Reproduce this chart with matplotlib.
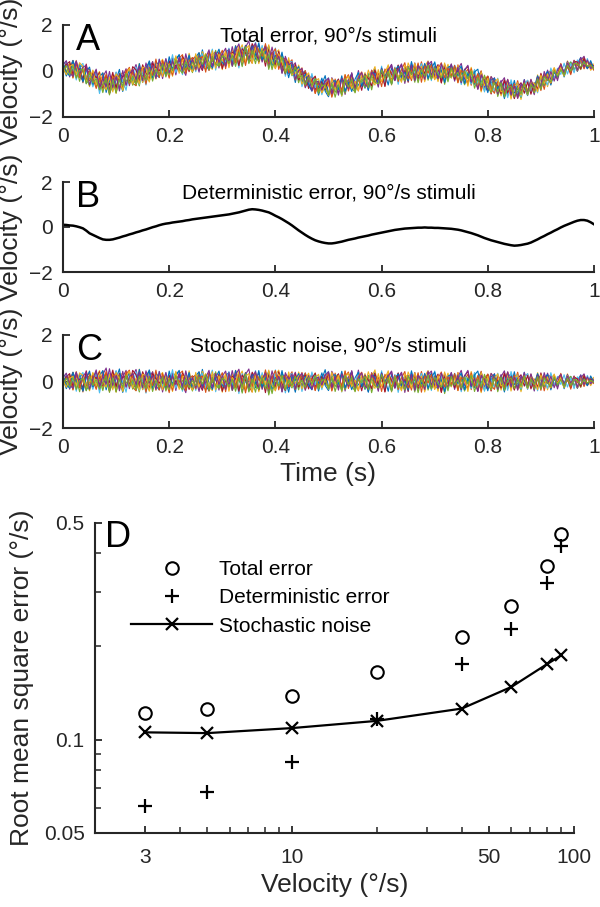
import numpy as np
import matplotlib
matplotlib.use("Agg")
import matplotlib.pyplot as plt
from matplotlib.ticker import FixedLocator, NullFormatter, FixedFormatter

plt.rcParams['font.family'] = ['Liberation Sans', 'DejaVu Sans']

# ---------------- data ----------------
time_s = np.linspace(0, 1, 161)

deterministic_trace = [
    0.10, 0.09, 0.07, 0.06, 0.03, -0.01, -0.06, -0.16, -0.28, -0.35,
    -0.42, -0.49, -0.55, -0.57, -0.57, -0.55, -0.51, -0.47, -0.42, -0.38,
    -0.33, -0.29, -0.24, -0.20, -0.15, -0.11, -0.06, -0.01, 0.03, 0.08,
    0.12, 0.15, 0.17, 0.20, 0.22, 0.24, 0.26, 0.29, 0.31, 0.34,
    0.36, 0.38, 0.40, 0.42, 0.44, 0.46, 0.48, 0.50, 0.52, 0.54,
    0.56, 0.59, 0.62, 0.65, 0.69, 0.73, 0.77, 0.79, 0.78, 0.76,
    0.73, 0.69, 0.65, 0.58, 0.50, 0.43, 0.35, 0.26, 0.17, 0.07,
    -0.04, -0.15, -0.25, -0.35, -0.44, -0.52, -0.59, -0.64, -0.68, -0.71,
    -0.73, -0.73, -0.71, -0.68, -0.65, -0.61, -0.57, -0.54, -0.51, -0.47,
    -0.44, -0.41, -0.38, -0.34, -0.31, -0.28, -0.25, -0.22, -0.19, -0.16,
    -0.13, -0.11, -0.09, -0.07, -0.06, -0.05, -0.04, -0.03, -0.03, -0.02,
    -0.03, -0.03, -0.04, -0.04, -0.05, -0.06, -0.07, -0.08, -0.10, -0.12,
    -0.15, -0.19, -0.23, -0.27, -0.32, -0.37, -0.43, -0.49, -0.54, -0.59,
    -0.63, -0.67, -0.71, -0.75, -0.78, -0.81, -0.83, -0.82, -0.80, -0.77,
    -0.74, -0.69, -0.62, -0.55, -0.47, -0.40, -0.32, -0.25, -0.17, -0.10,
    -0.02, 0.05, 0.11, 0.17, 0.23, 0.28, 0.31, 0.31, 0.28, 0.21,
    0.12]

noise_trial_1 = [.12,-.31,.05,.40,-.15,.22,.27,-.38,-.09,.06,
    .45,-.22,.13,.18,-.41,-.06,.33,.08,-.47,.21,
    .39,-.10,-.28,.24,-.35,.16,.50,-.04,-.19,-.36,
    .26,-.12,.13,-.29,.34,.44,-.19,.02,.07,-.37,
    .31,-.14,.52,-.16,-.40,.09,.21,.11,-.33,.26,
    .38,-.06,-.21,.25,-.44,.15,-.02,.34,-.27,.18,
    .03,.42,-.36,-.11,.19,-.12,.47,-.30,.05,.08,
    -.46,.29,.14,.36,-.15,-.32,.22,-.41,.10,.51,
    -.24,-.05,.17,.32,-.38,.04,.17,.43,-.28,-.14,
    .06,-.34,.26,.12,.39,-.19,.03,.11,-.42,.30,
    -.08,.34,-.23,.15,-.32,.24,.04,-.14,.20,-.25,
    .09,.37,-.18,-.30,.13,.28,-.07,-.21,.35,-.11,
    .18,-.39,.02,.25,-.26,.14,.41,-.17,-.33,.07,
    .29,-.09,.16,-.45,.23,.31,-.13,.06,-.28,.40,
    -.20,.12,-.36,.27,.08,-.15,.33,-.24,.19,-.04,
    .26,-.31,.10,.22,-.17,.05,.28,-.12,.16,-.07,
    .09]
noise_trial_2 = [-.22,.30,-.07,.39,-.33,.16,-.45,.23,.35,-.12,
    .27,-.36,.46,.06,-.28,.37,-.43,.18,-.09,.33,
    .49,-.24,-.40,.28,.10,-.32,.42,-.17,.21,-.37,
    .29,.04,-.48,.37,-.14,.32,.45,-.26,.08,-.35,
    -.16,.41,-.30,.19,-.42,.25,.36,-.10,-.38,.30,
    .14,-.25,.48,-.34,.02,.39,-.21,-.45,.27,.17,
    -.29,.50,-.12,.23,-.40,.33,-.04,-.27,.16,.42,
    -.35,.21,-.18,.37,-.06,.29,-.39,.12,-.23,.31,
    .11,-.27,.36,-.08,-.33,.22,.41,-.15,.05,-.40,
    .24,.13,-.30,.38,-.19,-.02,.27,-.44,.32,.09,
    -.13,.35,-.26,.18,.04,-.37,.29,-.11,.43,-.21,
    .07,-.32,.25,.16,-.46,.34,-.05,.20,-.28,.39,
    -.17,.08,.31,-.35,.22,-.10,.44,-.24,.13,-.38,
    .27,.02,-.19,.36,-.31,.15,-.07,.40,-.26,.19,
    .33,-.14,.06,-.29,.24,-.40,.17,.28,-.09,-.22,
    .35,-.18,.12,-.33,.21,.07,-.25,.30,-.12,.16,
    .04]
noise_trial_3 = [.24,-.10,.18,-.36,.43,-.25,.30,-.04,-.40,.35,
    .15,.47,-.32,.05,-.18,.40,-.46,.26,.36,-.21,
    .06,.38,-.27,.53,-.35,.14,-.12,.42,-.38,.19,
    .39,-.28,.10,-.43,.33,-.02,.26,-.37,.46,-.16,
    .21,-.33,.44,.04,-.23,-.39,.29,.14,-.46,.36,
    -.08,.32,-.29,.18,.45,-.36,.24,-.14,.40,-.44,
    .12,-.21,.36,-.42,.28,.49,-.31,.08,-.16,.31,
    -.26,.41,.02,-.35,.22,-.12,.37,-.29,.17,-.06,
    .20,-.38,.31,.09,-.24,.45,-.15,.27,-.41,.13,
    -.03,.34,-.28,.19,.50,-.33,.07,-.20,.38,-.45,
    .16,.29,-.12,-.36,.41,.04,-.27,.33,-.18,.22,
    .47,-.30,.11,-.42,.25,-.06,.36,-.23,.14,-.39,
    .30,.08,-.34,.43,-.15,.21,-.48,.26,.02,.35,
    -.21,.17,-.37,.12,.40,-.28,.06,.32,-.44,.19,
    -.09,.27,-.31,.38,-.13,.24,-.36,.15,.29,-.19,
    .10,-.27,.33,-.08,.21,-.30,.14,.25,-.16,.06,
    .18]
noise_trial_4 = [-.12,.26,-.33,.06,.41,-.19,-.37,.34,.14,-.28,
    .39,-.14,.30,.58,-.23,.10,.44,-.40,.19,.48,
    -.31,.23,.52,-.08,.36,-.34,.16,.42,-.21,.28,
    -.45,.17,-.04,.35,-.39,.24,-.16,-.48,.32,-.23,
    .08,-.43,.27,-.10,.38,-.29,.14,-.37,.23,.45,
    -.19,.47,-.14,.35,-.42,.30,.54,-.26,.04,.38,
    -.34,.16,-.50,.24,-.12,.34,-.45,.19,-.28,.10,
    .40,-.18,.26,-.38,.06,.32,-.24,.21,-.10,.29,
    -.36,.44,.13,-.27,.33,-.41,.22,.05,-.30,.49,
    -.15,.28,-.44,.37,.09,-.23,.31,-.36,.18,.42,
    -.29,.11,.35,-.47,.26,-.07,.39,-.20,.16,-.38,
    .30,.45,-.25,.14,-.40,.33,-.11,.27,-.34,.20,
    .48,-.16,-.31,.24,.08,-.43,.37,-.19,.29,-.05,
    .34,-.37,.21,.46,-.22,.12,-.35,.28,-.14,.39,
    -.27,.17,-.41,.31,.06,-.24,.36,-.13,.25,-.32,
    .19,-.21,.30,-.09,.24,-.28,.15,.33,-.18,.11,
    -.06]
noise_trial_5 = [.06,-.18,.27,-.31,.12,-.44,.19,-.10,-.36,.24,
    -.26,.08,-.39,.21,-.47,.04,-.19,.29,-.42,-.08,
    .17,-.33,.02,-.45,.23,-.14,-.38,.10,-.25,.35,
    -.12,.28,-.35,.16,.38,-.21,.06,-.31,.19,-.41,
    .12,.32,-.17,-.36,.26,-.06,.42,-.28,.14,-.23,
    .34,-.39,-.10,.24,-.50,.16,-.30,.04,-.46,.21,
    -.16,.26,-.58,.10,-.34,.17,-.41,.22,-.04,-.28,
    .14,-.36,.19,-.14,.29,-.24,.10,-.33,.15,-.08,
    -.27,.21,-.43,.09,.30,-.35,.13,-.22,-.40,.18,
    .05,-.31,.24,-.48,.11,-.17,.33,-.26,.02,-.39,
    .22,-.13,-.34,.27,-.08,.15,-.45,.20,-.24,.31,
    -.37,.07,.23,-.29,.16,-.52,.12,-.18,.26,-.33,
    .09,-.41,.19,-.06,.35,-.25,.03,-.38,.21,-.15,
    .28,-.44,.10,-.20,.32,-.30,.14,-.09,-.36,.24,
    -.12,.18,-.33,.07,.27,-.23,.11,-.30,.20,-.16,
    .13,-.26,.08,.22,-.19,.05,-.24,.17,-.10,.06,
    -.04]
noise_trial_6 = [.16,.33,-.26,.12,-.42,.21,.39,-.17,.08,-.34,
    .31,-.49,.15,-.24,.36,-.13,.47,-.29,.04,-.46,
    .28,-.12,.42,-.38,.19,-.50,.33,.06,-.27,.44,
    -.24,.37,-.08,.51,-.29,.14,-.42,.34,.02,.23,
    -.39,.15,.36,-.26,.10,.49,-.44,.22,.32,-.14,
    .43,-.17,.26,-.52,.34,-.06,.19,-.37,.47,-.27,
    .38,-.26,.08,-.36,.50,-.17,.29,-.49,.21,.35,
    -.21,.31,-.43,.17,-.28,.41,-.13,.26,-.35,.19,
    .44,-.32,.07,.25,-.45,.36,-.18,.12,-.29,.40,
    -.10,.27,-.41,.33,.05,-.24,.46,-.37,.16,-.08,
    .30,-.47,.22,.13,-.33,.41,-.20,.04,.35,-.28,
    .19,-.39,.45,-.11,.26,-.35,.09,.37,-.23,.14,
    -.44,.28,.02,-.30,.39,-.16,.23,-.42,.31,.08,
    -.26,.36,-.14,.20,-.38,.43,-.05,.27,-.32,.17,
    .34,-.22,.11,-.40,.25,.06,-.29,.38,-.17,.22,
    -.13,.29,-.24,.15,-.31,.20,.07,-.18,.26,-.10,
    .05]
noise_trial_7 = [-.06,.19,.34,-.21,.24,.08,-.29,.46,-.14,.29,
    .12,.42,-.19,.37,-.04,.49,-.24,.36,.17,.26,
    -.15,.48,.29,-.24,.42,.04,-.28,.34,.12,-.08,
    .24,-.36,.28,-.21,.04,-.26,.37,.10,-.34,.17,
    .28,-.08,-.38,.24,-.29,.15,-.22,.34,-.42,.06,
    -.28,.22,.12,-.42,.28,.06,-.34,.40,.12,-.36,
    .21,-.48,.31,.04,-.22,.42,-.10,-.39,.29,-.17,
    .32,-.24,.12,.27,-.32,.14,.36,-.19,.24,-.12,
    .38,-.27,.09,.33,-.36,.18,-.05,.41,-.22,.14,
    -.40,.26,.07,-.31,.35,-.14,.23,-.45,.30,.02,
    -.25,.37,-.18,.11,-.43,.28,.16,-.34,.21,-.09,
    .39,-.29,.06,.32,-.47,.20,-.12,.36,-.26,.15,
    -.33,.24,.43,-.19,.08,-.38,.27,-.07,.31,-.41,
    .17,.04,-.28,.35,-.16,.22,-.37,.13,.29,-.20,
    .26,-.32,.10,-.24,.37,-.11,.19,-.30,.23,-.06,
    .28,-.17,.09,-.26,.18,.12,-.21,.24,-.14,.07,
    .10]
noise_trial_8 = [.26,-.14,-.28,.39,-.06,.31,-.42,.15,.45,-.22,
    -.10,.24,.47,-.36,.20,-.29,.13,.54,-.34,.10,
    .36,-.17,-.22,.52,-.15,.26,.43,-.31,.37,.17,
    .06,-.31,.45,-.12,.22,.48,-.24,-.10,.39,-.33,
    .24,.42,-.20,.31,-.04,-.34,.17,.45,-.15,-.31,
    .19,-.33,.47,.08,-.20,.37,-.41,.29,-.12,.47,
    -.24,.13,.43,-.31,.17,-.24,.37,.06,-.46,.26,
    .04,.34,-.28,.22,-.15,-.36,.27,-.08,.37,-.17,
    -.39,.21,.30,-.12,.44,-.27,.08,-.35,.16,.40,
    -.23,.11,-.46,.29,.19,-.32,.38,-.05,.25,-.41,
    .14,.33,-.19,.02,-.37,.46,-.21,.27,-.10,.35,
    -.30,.18,.41,-.26,.07,-.44,.23,.31,-.16,.09,
    .37,-.35,.12,-.22,.28,.45,-.29,.04,-.40,.20,
    .31,-.13,.26,-.38,.10,-.20,.42,-.27,.15,.03,
    -.33,.24,-.09,.34,-.25,.18,.29,-.36,.12,-.15,
    .22,-.08,.27,-.21,.13,-.29,.19,.06,-.18,.24,
    -.05]
noise_trial_9 = [-.15,.12,.22,-.36,.32,-.28,.10,-.22,.27,.06,
    -.34,.19,-.15,.44,-.41,.25,.32,-.20,-.29,.42,
    -.24,.31,-.39,.17,.27,-.46,.22,-.18,.49,-.32,
    .34,-.19,.13,-.38,.29,-.04,.31,-.39,.12,.25,
    -.32,.17,.22,-.47,.36,.10,-.25,.08,.38,-.44,
    .29,.08,-.25,.32,.15,-.49,.20,-.22,.36,.10,
    -.08,.41,-.32,.17,.47,-.36,.15,.29,-.22,-.10,
    .24,-.12,.39,-.29,.18,.08,-.38,.17,-.25,.13,
    .33,-.41,.06,.28,-.19,.45,-.30,.11,-.37,.22,
    .40,-.14,-.26,.35,-.08,.19,-.43,.31,.04,-.21,
    .27,-.35,.16,.43,-.28,.09,-.17,.38,-.46,.24,
    -.06,.30,-.33,.14,.41,-.24,.20,-.12,.34,-.39,
    .18,.05,-.29,.37,-.20,.26,-.42,.13,.32,-.16,
    -.34,.22,.10,-.27,.39,-.11,.28,-.36,.07,.25,
    -.19,.31,-.23,.16,-.38,.24,.04,-.28,.20,-.12,
    .29,-.17,.11,-.25,.21,-.06,.18,-.22,.14,.02,
    -.09]
noise_trial_10 = [.04,-.25,.13,.22,-.17,.37,.25,-.29,-.10,.39,
    -.18,.36,.06,-.25,.31,-.36,.39,.11,-.42,.20,
    .44,-.27,.15,-.36,.32,.24,-.42,.20,-.04,.24,
    -.36,.25,.08,-.27,.44,-.34,.20,.25,-.15,-.37,
    .39,-.22,.11,.34,-.24,.42,-.36,.24,-.08,.29,
    -.42,.17,-.04,.44,-.31,.22,.34,-.46,.24,-.20,
    .27,-.13,.49,-.18,-.39,.32,.02,-.31,.41,-.22,
    -.06,.25,-.32,.09,.36,-.20,.15,.31,-.27,.08,
    -.33,.40,-.11,.26,-.44,.18,.35,-.23,.07,-.38,
    .29,-.16,.42,-.05,-.30,.34,-.21,.13,.46,-.35,
    .21,-.09,-.40,.32,.15,-.27,.38,-.12,.23,-.45,
    .30,.06,-.34,.25,-.18,.41,-.29,.10,-.07,.36,
    -.24,.19,-.43,.28,.03,-.32,.39,-.15,.22,-.36,
    .14,.33,-.20,-.08,.30,-.41,.17,.26,-.25,.11,
    -.30,.23,.07,-.35,.29,-.14,.20,-.26,.32,-.09,
    .17,-.23,.26,-.11,.15,-.27,.21,-.06,.13,-.18,
    .08]
noise_trial_11 = [.17,.36,-.15,-.29,.38,-.08,.22,.41,-.32,.11,
    .50,-.29,.24,-.11,.55,-.17,.27,-.32,.44,-.25,
    .20,.34,-.13,.41,-.27,.46,-.06,.25,-.36,.43,
    -.08,.39,-.25,.24,-.13,.36,-.29,.46,-.18,.15,
    -.24,.27,-.32,.17,.48,-.27,.34,-.13,.25,-.34,
    .39,-.38,.29,.53,-.15,.25,-.32,.17,.43,-.29,
    .11,.36,-.25,.46,-.15,.22,-.44,.38,.08,.32,
    -.31,.17,.36,-.22,.25,-.34,.13,.18,-.15,.27,
    .42,-.26,.19,-.37,.33,.08,-.21,.47,-.30,.14,
    .37,-.19,-.33,.28,.12,-.42,.35,-.07,.24,.45,
    -.28,.16,.40,-.23,-.11,.31,-.38,.26,.09,-.34,
    .44,-.15,.21,-.30,.36,.02,-.26,.39,-.17,.29,
    -.36,.23,.48,-.20,.13,-.41,.27,.07,-.29,.35,
    .16,-.33,.30,-.12,.42,-.24,.19,-.37,.25,.05,
    -.21,.33,-.16,.27,-.30,.38,-.09,.22,-.27,.14,
    .31,-.19,.24,-.08,.18,-.25,.28,-.13,.20,-.10,
    .06]
noise_trial_12 = [-.10,.15,-.24,.18,-.34,.04,.13,-.40,.22,-.17,
    .09,-.32,-.06,.25,-.40,.17,-.45,.11,-.24,.27,
    -.20,.08,-.36,.22,-.10,-.29,.17,-.43,.06,-.25,
    .20,-.41,.11,-.18,.25,-.15,-.36,.13,-.27,.04,
    -.18,.20,-.11,.29,-.38,.18,-.17,-.29,.15,.04,
    -.22,.10,-.42,.13,-.25,.32,-.45,.11,-.17,-.34,
    .18,-.31,.06,-.52,.11,-.20,.27,-.36,.08,-.18,
    .22,-.15,.06,-.25,.17,-.11,.25,-.20,.04,.10,
    -.31,.16,-.22,.07,-.39,.26,-.13,.19,-.44,.12,
    -.05,.23,-.35,.14,-.18,-.28,.30,-.09,.17,-.41,
    .21,-.26,.03,-.37,.24,-.12,.15,-.48,.09,-.20,
    .28,-.33,.18,-.07,-.25,.13,-.40,.22,-.15,.06,
    -.29,.19,-.11,.26,-.43,.08,-.21,.31,-.17,-.34,
    .12,-.24,.20,-.38,.05,.16,-.30,.11,-.19,.23,
    -.27,.09,-.14,.21,-.33,.15,-.06,-.22,.18,-.12,
    .07,-.20,.14,-.16,.10,.02,-.13,.09,-.07,.05,
    -.02]

noise_trials = [noise_trial_1, noise_trial_2, noise_trial_3, noise_trial_4,
                noise_trial_5, noise_trial_6, noise_trial_7, noise_trial_8,
                noise_trial_9, noise_trial_10, noise_trial_11, noise_trial_12]

stim_velocity = [3, 5, 10, 20, 40, 60, 80, 90]
rms_total = [0.122, 0.126, 0.138, 0.165, 0.215, 0.270, 0.364, 0.461]
rms_deterministic = [0.0613, 0.0676, 0.0845, 0.117, 0.175, 0.228, 0.320, 0.420]
rms_stochastic = [0.1056, 0.105, 0.109, 0.115, 0.126, 0.148, 0.175, 0.187]

x_ticks_time = [0, 0.2, 0.4, 0.6, 0.8, 1]
x_ticklabels_time = ['0', '0.2', '0.4', '0.6', '0.8', '1']
y_ticks_vel = [-2, 0, 2]
x_ticks_D = [3, 10, 50, 100]
y_ticks_D = [0.05, 0.1, 0.5]
y_ticklabels_D = ['0.05', '0.1', '0.5']

matlab_colors = ['#0072BD', '#D95319', '#EDB120', '#7E2F8E',
                 '#77AC30', '#4DBEEE', '#A2142F']

# ---------------- figure ----------------
TICK_FS = 15
LABEL_FS = 19
TITLE_FS = 15
LETTER_FS = 26
SPINE_W = 1.5

fig = plt.figure(figsize=(6.0, 9.07), dpi=100)

def style_axes(ax):
    for s in ['top', 'right']:
        ax.spines[s].set_visible(False)
    for s in ['left', 'bottom']:
        ax.spines[s].set_linewidth(SPINE_W)
        ax.spines[s].set_color('#262626')
    ax.tick_params(direction='in', length=5, width=1.3, labelsize=TICK_FS,
                   colors='#262626', pad=7.5)
    ax.tick_params(which='minor', direction='in', length=3, width=1.1,
                   colors='#262626')

AX_W = 531
panel_rects = [
    [63/600, 1 - 117/907, AX_W/600, 92/907],
    [63/600, 1 - 272/907, AX_W/600, 90/907],
    [63/600, 1 - 428/907, AX_W/600, 93/907],
]
titles = ['Total error, 90°/s stimuli',
          'Deterministic error, 90°/s stimuli',
          'Stochastic noise, 90°/s stimuli']
letters = ['A', 'B', 'C']

det = np.array(deterministic_trace)
for k, rect in enumerate(panel_rects):
    ax = fig.add_axes(rect)
    if k == 0:
        for j, tr in enumerate(noise_trials):
            ax.plot(time_s, det + np.array(tr), color=matlab_colors[j % 7], lw=0.8)
    elif k == 1:
        ax.plot(time_s, det, color='black', lw=1.8)
    else:
        for j, tr in enumerate(noise_trials):
            ax.plot(time_s, tr, color=matlab_colors[j % 7], lw=0.8)
    ax.set_xlim(0, 1)
    ax.set_ylim(-2, 2)
    ax.set_xticks(x_ticks_time)
    ax.set_xticklabels(x_ticklabels_time)
    ax.set_yticks(y_ticks_vel)
    style_axes(ax)
    ax.set_ylabel('Velocity (°/s)', fontsize=LABEL_FS, color='#262626')
    ax.yaxis.set_label_coords(-0.075, 0.5)
    ax.text(0.5, 0.88, titles[k], transform=ax.transAxes, ha='center',
            va='center', fontsize=TITLE_FS, color='black')
    ax.text(0.025, 1.02, letters[k], transform=ax.transAxes, ha='left',
            va='top', fontsize=LETTER_FS, color='black')
    if k == 2:
        ax.set_xlabel('Time (s)', fontsize=LABEL_FS, color='#262626', labelpad=3)

# Panel D
axd = fig.add_axes([95/600, 1 - 833/907, 479/600, 310/907])
axd.set_xscale('log')
axd.set_yscale('log')
axd.plot(stim_velocity, rms_total, linestyle='none', marker='o', ms=9,
         mfc='none', mec='black', mew=1.5, label='Total error')
axd.plot(stim_velocity, rms_deterministic, linestyle='none', marker='+', ms=10,
         mec='black', mew=1.6, label='Deterministic error')
axd.plot(stim_velocity, rms_stochastic, linestyle='-', color='black', lw=1.6,
         marker='x', ms=9, mew=1.6, label='Stochastic noise')
axd.set_xlim(2, 100)
axd.set_ylim(0.05, 0.5)
axd.xaxis.set_major_locator(FixedLocator(x_ticks_D))
axd.xaxis.set_major_formatter(FixedFormatter([str(v) for v in x_ticks_D]))
axd.xaxis.set_minor_locator(FixedLocator([4, 5, 6, 7, 8, 9, 20, 30, 40, 60, 70, 80, 90]))
axd.xaxis.set_minor_formatter(NullFormatter())
axd.yaxis.set_major_locator(FixedLocator(y_ticks_D))
axd.yaxis.set_major_formatter(FixedFormatter(y_ticklabels_D))
axd.yaxis.set_minor_locator(FixedLocator([0.06, 0.07, 0.08, 0.09, 0.2, 0.3, 0.4]))
axd.yaxis.set_minor_formatter(NullFormatter())
style_axes(axd)
axd.tick_params(which='minor', length=4)
axd.tick_params(axis='x', which='major', pad=11)
axd.set_xlabel('Velocity (°/s)', fontsize=LABEL_FS, color='#262626', labelpad=4)
axd.set_ylabel('Root mean square error (°/s)', fontsize=LABEL_FS, color='#262626')
axd.yaxis.set_label_coords(-0.128, 0.5)
axd.text(0.02, 1.01, 'D', transform=axd.transAxes, ha='left', va='top',
         fontsize=LETTER_FS, color='black')
leg = axd.legend(loc='upper left', bbox_to_anchor=(0.075, 0.881), frameon=False,
                 fontsize=TICK_FS, handlelength=3.9, handletextpad=0.35,
                 labelspacing=0.45, borderaxespad=0, borderpad=0)

fig.savefig('out.png', dpi=100)
